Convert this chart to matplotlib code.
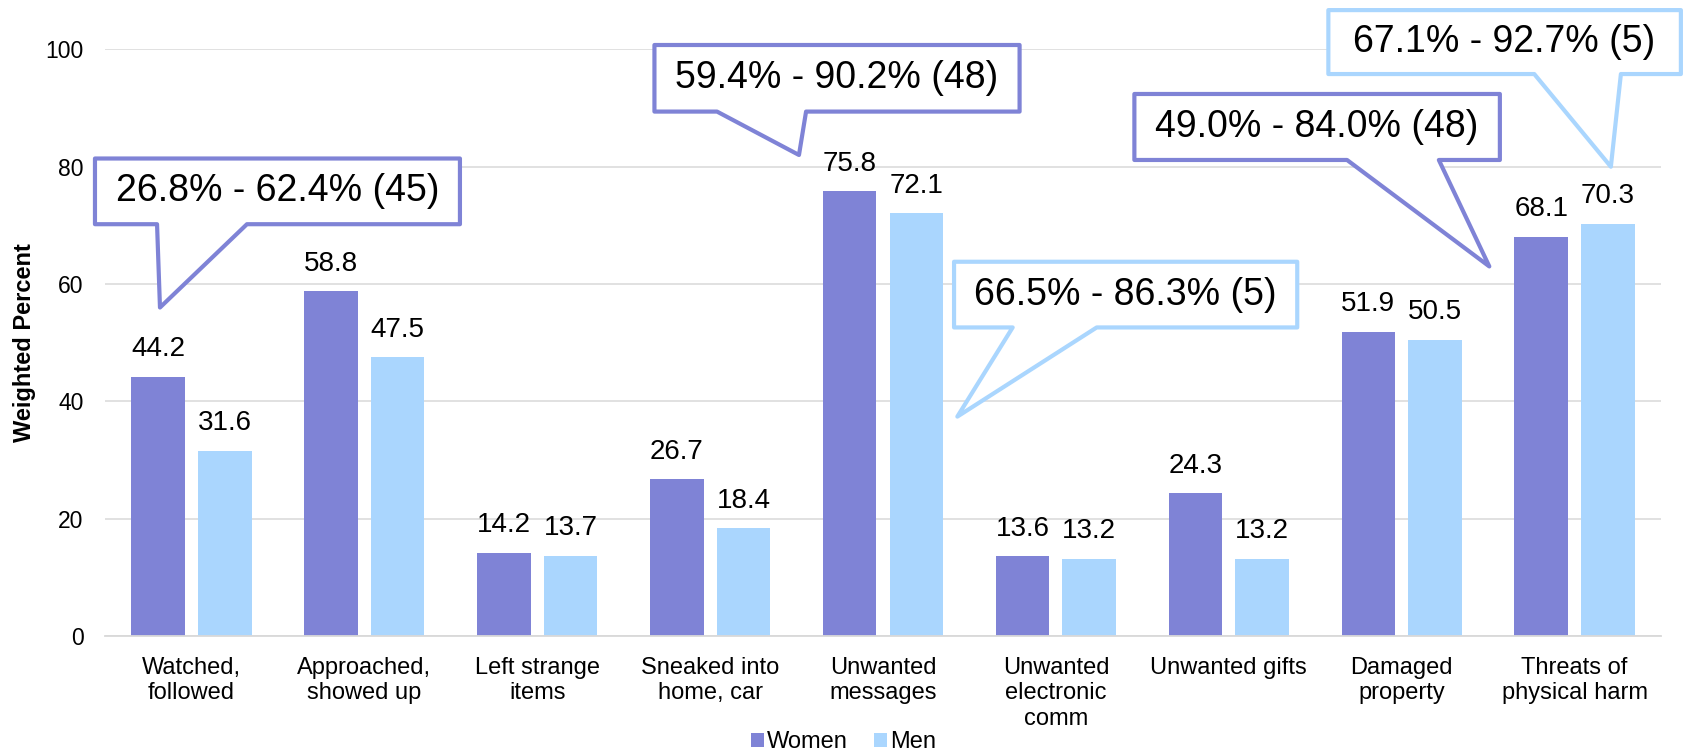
import matplotlib
matplotlib.use("Agg")
import matplotlib.pyplot as plt
import numpy as np
from matplotlib.patches import Polygon, Patch

plt.rcParams["font.family"] = ["Liberation Sans", "DejaVu Sans"]

# data
categories = [
    "Watched,\nfollowed",
    "Approached,\nshowed up",
    "Left strange\nitems",
    "Sneaked into\nhome, car",
    "Unwanted\nmessages",
    "Unwanted\nelectronic\ncomm",
    "Unwanted gifts",
    "Damaged\nproperty",
    "Threats of\nphysical harm",
]
women = [44.2, 58.8, 14.2, 26.7, 75.8, 13.6, 24.3, 51.9, 68.1]
men = [31.6, 47.5, 13.7, 18.4, 72.1, 13.2, 13.2, 50.5, 70.3]
series_names = ["Women", "Men"]
yticks = [0, 20, 40, 60, 80, 100]

# callout text (confidence range, n) and the series it belongs to
callout_text = [
    "26.8% - 62.4% (45)",
    "59.4% - 90.2% (48)",
    "66.5% - 86.3% (5)",
    "49.0% - 84.0% (48)",
    "67.1% - 92.7% (5)",
]
callout_series = [0, 0, 1, 0, 1]

# callout layout in data units: left, right, top, bottom, tail base a, tail base b, tip x, tip y
callout_layout = [
    (-0.558, 1.553, 81.4, 70.2, -0.199, 0.321, -0.182, 56.0),
    (2.678, 4.790, 100.75, 89.4, 3.040, 3.555, 3.514, 82.0),
    (4.411, 6.396, 63.8, 52.6, 4.750, 5.236, 4.430, 37.4),
    (5.454, 7.568, 92.4, 81.15, 6.684, 7.215, 7.507, 63.0),
    (6.576, 8.615, 106.7, 95.8, 7.767, 8.268, 8.210, 80.0),
]

colors = ["#7f83d6", "#aad6fe"]
grid_color = "#d9d9d9"

fig = plt.figure(figsize=(16.87, 7.54), dpi=100)
ax = fig.add_axes([105 / 1687, 1 - 636 / 754, 1556 / 1687, (636 - 49.4) / 754])

x = np.arange(len(categories))
offset = 0.193
width = 0.31
for vals, off, col in zip([women, men], [-offset, offset], colors):
    bars = ax.bar(x + off, vals, width=width, color=col, zorder=2)
    for b, v in zip(bars, vals):
        ax.annotate(f"{v:.1f}", (b.get_x() + b.get_width() / 2, v),
                    xytext=(0, 14.8), textcoords="offset points",
                    ha="center", va="baseline", fontsize=20, color="black", zorder=3)

ax.set_xlim(-0.5, len(categories) - 0.5)
ax.set_ylim(0, 100)
ax.set_yticks(yticks)
ax.set_xticks(x)
ax.set_xticklabels(categories, fontsize=17, linespacing=1.2)
ax.tick_params(axis="y", length=0, pad=15.5, labelsize=16.5)
ax.tick_params(axis="x", length=0, pad=15)
ax.yaxis.grid(True, color=grid_color, linewidth=1.1, zorder=0)
ax.set_axisbelow(True)
for s in ["top", "right", "left"]:
    ax.spines[s].set_visible(False)
ax.spines["bottom"].set_color(grid_color)
ax.spines["bottom"].set_linewidth(1.3)

fig.text(25 / 1687, 1 - 342.7 / 754, "Weighted Percent", rotation=90,
         ha="center", va="center", fontsize=17, fontweight="bold")

# callouts
for txt, si, (l, r, t, b, ta, tb, tx, ty) in zip(callout_text, callout_series, callout_layout):
    verts = [(l, t), (r, t), (r, b), (tb, b), (tx, ty), (ta, b), (l, b)]
    poly = Polygon(verts, closed=True, facecolor="white", edgecolor=colors[si],
                   linewidth=3, joinstyle="round", clip_on=False, zorder=5)
    ax.add_patch(poly)
    ax.text((l + r) / 2, (t + b) / 2, txt, ha="center", va="center",
            fontsize=27, color="black", zorder=6, clip_on=False)

handles = [Patch(facecolor=c, edgecolor="none") for c in colors]
fig.legend(handles, series_names, loc="center", bbox_to_anchor=(0.5, 1 - 742 / 754),
           ncol=2, frameon=False, fontsize=17, handlelength=0.55, handleheight=0.55,
           handletextpad=0.15, columnspacing=1.1, borderaxespad=0, borderpad=0)

fig.savefig("out.png", dpi=100)
